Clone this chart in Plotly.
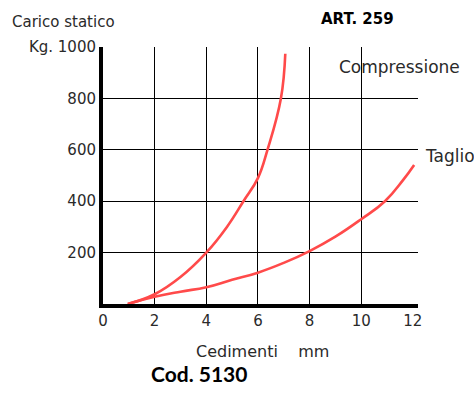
import plotly.graph_objects as go

# Data
comp_x = [0.96, 2, 3, 4, 4.8, 5.44, 6, 6.37, 6.89, 7.06]
comp_y = [0, 38, 105, 200, 300, 400, 490, 600, 800, 974]

taglio_x = [0.96, 2, 3, 4, 5, 6, 7, 8, 9, 10, 10.92, 11.62, 12.05]
taglio_y = [0, 28, 48, 65, 94, 122, 160, 206, 262, 330, 400, 482, 541]

x_ticks = [0, 2, 4, 6, 8, 10, 12]
x_grid = [2, 4, 6, 8, 10]
y_ticks = [200, 400, 600, 800, 1000]
y_ticktext = ["200", "400", "600", "800", "Kg. 1000"]

RED = "#ff4a4a"
FONT = "DejaVu Sans"
TXT = "#2a2a2a"

fig = go.Figure()
fig.add_trace(go.Scatter(x=comp_x, y=comp_y, mode="lines", name="Compressione",
                         line=dict(color=RED, width=2.6, shape="spline", smoothing=1.2)))
fig.add_trace(go.Scatter(x=taglio_x, y=taglio_y, mode="lines", name="Taglio",
                         line=dict(color=RED, width=2.6, shape="spline", smoothing=1.3)))

fig.update_layout(
    width=474, height=397,
    margin=dict(l=103, r=56, t=47, b=93),
    paper_bgcolor="white", plot_bgcolor="white",
    showlegend=False,
    font=dict(family=FONT, size=15, color=TXT),
    xaxis=dict(range=[0, 12.2], tickvals=x_ticks, ticktext=[str(v) for v in x_ticks],
               showgrid=False, zeroline=False,
               minor=dict(tickvals=x_grid, showgrid=True, gridcolor="black", gridwidth=1, ticks=""),
               showline=True, linecolor="black", linewidth=4, ticks="",
               tickfont=dict(family=FONT, size=15, color=TXT), fixedrange=True),
    yaxis=dict(range=[0, 1000], tickvals=y_ticks, ticktext=y_ticktext,
               showgrid=False, zeroline=False,
               minor=dict(tickvals=y_ticks, showgrid=True, gridcolor="black", gridwidth=1, ticks=""),
               showline=True, linecolor="black", linewidth=4, ticks="",
               tickfont=dict(family=FONT, size=15, color=TXT), fixedrange=True),
)

W, H = 315.0, 257.0
L, T = 103.0, 47.0


def px(xp):
    return (xp - L) / W


def py(yp):
    return (T + H - yp) / H


ann = [
    dict(text="Carico statico", x=px(10), y=py(21.7), xanchor="left", yanchor="middle",
         font=dict(size=15, color=TXT)),
    dict(text="<b>ART. 259</b>", x=px(357.5), y=py(19), xanchor="center", yanchor="middle",
         font=dict(size=15, color="black")),
    dict(text="Compressione", x=px(337), y=py(67), xanchor="left", yanchor="middle",
         font=dict(size=17, color=TXT)),
    dict(text="Taglio", x=px(423), y=py(156), xanchor="left", yanchor="middle",
         font=dict(size=17, color=TXT)),
    dict(text="Cedimenti\u00a0\u00a0\u00a0\u00a0mm", x=px(262.5), y=py(351), xanchor="center",
         yanchor="middle", font=dict(size=16, color=TXT)),
    dict(text="<b>Cod. 5130</b>", x=px(198.5), y=py(373), xanchor="center", yanchor="middle",
         font=dict(family="Lato", size=21, color="black")),
]
for a in ann:
    a["showarrow"] = False
    a["xref"] = "paper"
    a["yref"] = "paper"
    fig.add_annotation(**a)

fig.write_html("out.html", config={"displayModeBar": False, "staticPlot": True},
               post_script="document.body.style.margin='0px';")
